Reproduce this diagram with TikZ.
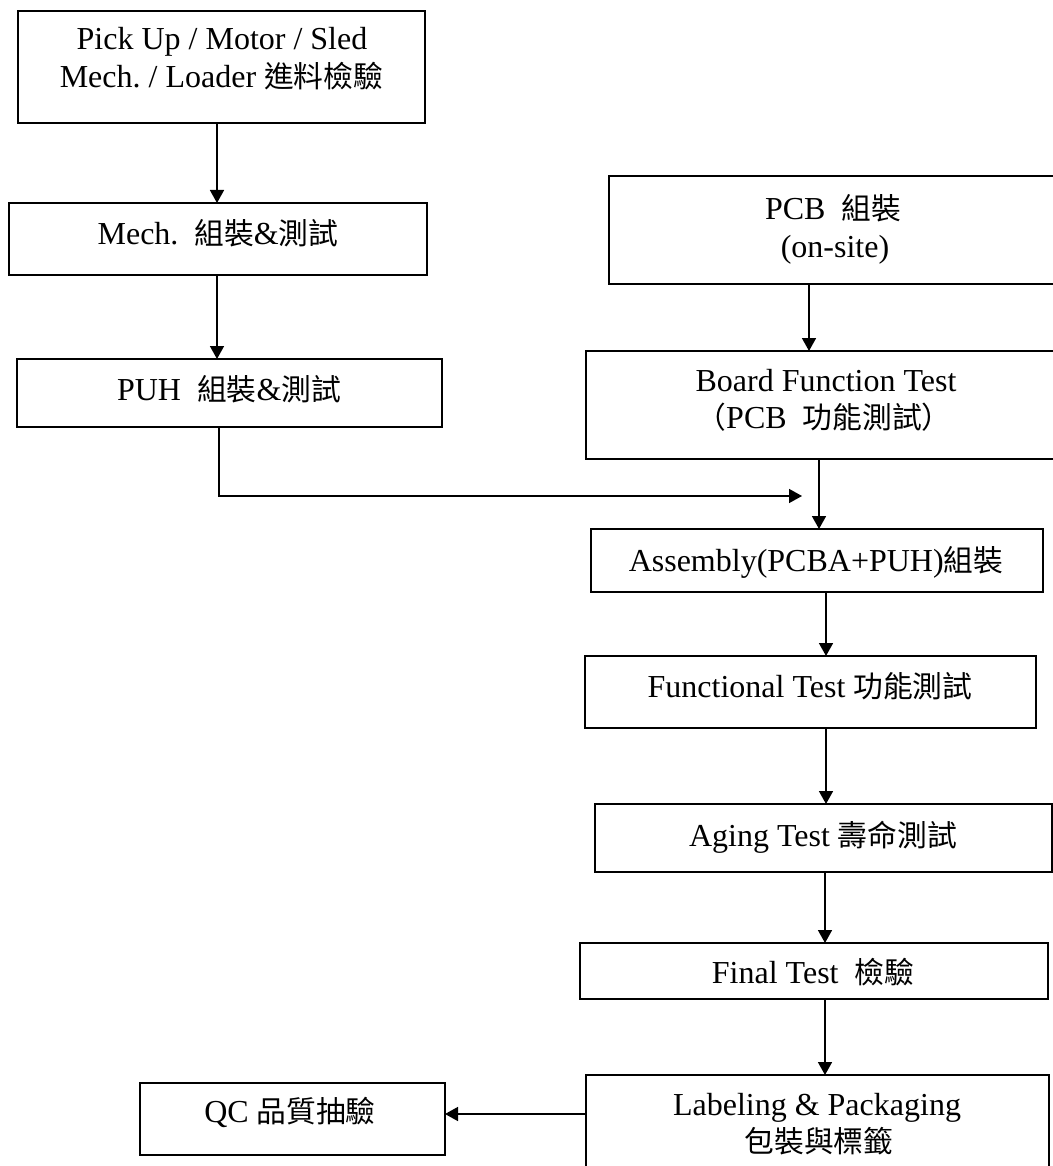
\documentclass[tikz,border=0pt]{standalone}
\usepackage{fontspec}
\setmainfont{Liberation Serif}
\newfontfamily\cjkfont[Scale=0.93]{Noto Sans CJK TC}
\newcommand{\zh}[1]{{\cjkfont #1}}
\usetikzlibrary{arrows.meta}
\frenchspacing
\begin{document}
\begin{tikzpicture}[x=0.5pt,y=-0.5pt,
  box/.style={draw,line width=0.8pt,inner sep=0pt,outer sep=0pt},
  txt/.style={anchor=base,inner sep=0pt,font=\fontsize{16}{19}\selectfont},
  arr/.style={line width=0.8pt,-{Triangle[length=6.5pt,width=7pt]}}]
\useasboundingbox (0,0) rectangle (1053,1166);
\fill[white] (0,0) rectangle (1053,1166);
\clip (0,0) rectangle (1053,1166);
% boxes
\node[box,minimum width=203.5pt,minimum height=56pt] (b1) at (221.5,67) {};
\node[box,minimum width=209pt,minimum height=36pt] (b2) at (218,239) {};
\node[box,minimum width=212.5pt,minimum height=34pt] (b3) at (229.5,393) {};
\node[box,minimum width=225pt,minimum height=54pt] (pcb) at (834,230) {};
\node[box,minimum width=240pt,minimum height=54pt] (bft) at (826,405) {};
\node[box,minimum width=226pt,minimum height=31.5pt] (asm) at (817,560.5) {};
\node[box,minimum width=225.5pt,minimum height=36pt] (fun) at (810.5,692) {};
\node[box,minimum width=228.5pt,minimum height=34pt] (age) at (823.5,838) {};
\node[box,minimum width=234pt,minimum height=28pt] (fin) at (814,971) {};
\node[box,minimum width=231.5pt,minimum height=52.5pt] (lab) at (817.5,1127.5) {};
\node[box,minimum width=152.5pt,minimum height=36pt] (qc) at (292.5,1119) {};
% texts
\node[txt] (t1a) at (222,50) {Pick Up / Motor / Sled};
\node[txt] (t1b) at (221.5,88) {Mech. / Loader \zh{進料檢驗}};
\node[txt] (t2) at (218,244) {Mech.\ \ \zh{組裝}\&\zh{測試}};
\node[txt] (t3) at (229,400) {PUH\ \ \zh{組裝}\&\zh{測試}};
\node[txt] (tpa) at (833,220) {PCB\ \ \zh{組裝}};
\node[txt] (tpb) at (835,257) {(on-site)};
\node[txt] (tba) at (826,391) {Board Function Test};
\node[txt] (tbb) at (824,428) {\zh{（}PCB\ \ \zh{功能測試）}};
\node[txt] (tas) at (816,571) {Assembly(PCBA+PUH)\zh{組裝}};
\node[txt] (tfu) at (810,697) {Functional Test \zh{功能測試}};
\node[txt] (tag) at (823,846) {Aging Test \zh{壽命測試}};
\node[txt] (tfi) at (813,983) {Final Test\ \ \zh{檢驗}};
\node[txt] (tla) at (817,1115) {Labeling \& Packaging};
\node[txt] (tlb) at (819,1152) {\zh{包裝與標籤}};
\node[txt] (tqc) at (290,1122) {QC \zh{品質抽驗}};
% connectors
\coordinate (j) at (802,496);
\draw[arr] ([xshift=-2.25pt]b1.south) -- ([xshift=-2.25pt]b1.south |- b2.north);
\draw[arr] ([xshift=-0.5pt]b2.south) -- ([xshift=-0.5pt]b2.south |- b3.north);
\draw[arr] ([xshift=-5.25pt]b3.south) |- (j);
\draw[arr] ([xshift=-12.5pt]pcb.south) -- ([xshift=-12.5pt]pcb.south |- bft.north);
\draw[arr] ([xshift=-3.5pt]bft.south) -- ([xshift=-3.5pt]bft.south |- asm.north);
\draw[arr] ([xshift=4.5pt]asm.south) -- ([xshift=4.5pt]asm.south |- fun.north);
\draw[arr] ([xshift=7.75pt]fun.south) -- ([xshift=7.75pt]fun.south |- age.north);
\draw[arr] ([xshift=0.75pt]age.south) -- ([xshift=0.75pt]age.south |- fin.north);
\draw[arr] ([xshift=5.5pt]fin.south) -- ([xshift=5.5pt]fin.south |- lab.north);
\coordinate (qe) at ([yshift=2.5pt]qc.east);
\draw[arr] (qe -| lab.west) -- (qe);
\end{tikzpicture}
\end{document}
